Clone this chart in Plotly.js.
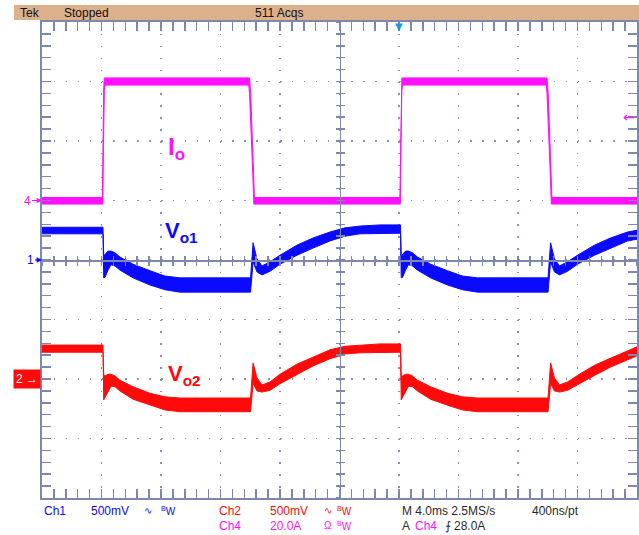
<!DOCTYPE html>
<html>
<head>
<meta charset="utf-8">
<script src="https://cdn.plot.ly/plotly-3.0.1.min.js"></script>
<style>html,body{margin:0;padding:0;background:#fff;}#chart{width:639px;height:535px;}</style>
</head>
<body>
<div id="chart"></div>
<script>
// ---- Data (time in ms, 4 ms/div) ----
// Ch4: output current Io (A), noise envelope upper / lower
var tIo  = [0, 4.06, 4.09, 4.11, 4.15, 4.19, 4.23, 13.90, 13.95, 14.03, 14.10, 14.17, 14.24, 14.28,
            24.06, 24.09, 24.11, 24.15, 24.19, 24.23, 33.90, 33.95, 34.03, 34.10, 34.17, 34.24, 34.28, 40.0];
var ioUp = [1.0, 1.0, 14, 28, 38, 41.2, 41.2, 41.2, 41.2, 36, 26, 14, 3, 1.0,
            1.0, 14, 28, 38, 41.2, 41.2, 41.2, 41.2, 36, 26, 14, 3, 1.0, 1.0];
var ioLo = [-1.2, -1.2, -1.2, 10, 28, 37, 38.8, 38.8, 36, 31, 20, 9, -1.2, -1.2,
            -1.2, -1.2, 10, 28, 37, 38.8, 38.8, 36, 31, 20, 9, -1.2, -1.2, -1.2];

// Ch1: Vo1 (mV, relative to Ch1 marker)
var tV = [0, 4.10, 4.15, 4.24, 4.44, 4.64, 4.91, 5.24, 6.12, 7.26, 8.27, 9.28,
          14.02, 14.19, 14.45, 14.79, 15.33, 16.00, 17.14, 18.22, 19.36, 20.37, 21.38, 22.72,
          24.10, 24.15, 24.24, 24.44, 24.64, 24.91, 25.24, 26.12, 27.26, 28.27, 29.28,
          34.02, 34.19, 34.45, 34.79, 35.33, 36.00, 37.14, 38.22, 39.36, 40.0];
var vo1Up = [275, 275, 35, 50, 75, 75, 60, 25, -35, -90, -135, -150,
             -150, 145, 10, -50, -15, 40, 125, 185, 235, 270, 285, 295,
             295, 35, 50, 75, 75, 60, 25, -35, -90, -135, -150,
             -150, 145, 10, -50, -15, 40, 125, 185, 235, 250];
var vo1Lo = [220, 220, -150, -145, -85, -40, -50, -85, -150, -210, -250, -270,
             -270, -15, -100, -125, -95, -35, 40, 100, 160, 200, 220, 225,
             225, -150, -145, -85, -40, -50, -85, -150, -210, -250, -270,
             -270, -15, -100, -125, -95, -35, 40, 100, 160, 175];

// Ch2: Vo2 (mV, relative to Ch2 marker)
var vo2Up = [285, 285, 35, 25, 40, 40, 25, -10, -65, -120, -150, -160,
             -160, 135, 10, -50, -25, 40, 125, 185, 245, 275, 285, 295,
             295, 35, 25, 40, 40, 25, -10, -65, -120, -150, -160,
             -160, 135, 10, -50, -25, 30, 115, 175, 235, 270];
var vo2Lo = [225, 225, -175, -160, -110, -60, -65, -100, -170, -220, -260, -275,
             -275, -35, -100, -110, -95, -40, 40, 110, 170, 210, 220, 225,
             225, -175, -160, -110, -60, -65, -100, -170, -220, -260, -275,
             -275, -35, -100, -110, -95, -45, 30, 100, 160, 195];

var triggerLevelA = 28;
var triggerTime = 24;

// ---- Build band polygons ----
function band(t, up, lo) {
  var tr = t.slice().reverse();
  return { x: t.concat(tr), y: up.concat(lo.slice().reverse()) };
}
var cMag = '#ff10ff', cBlue = '#0a0aff', cRed = '#ff0a0a';
var gridC = '#7f87ab';

var bIo = band(tIo, ioUp, ioLo);
var b1 = band(tV, vo1Up, vo1Lo);
var b2 = band(tV, vo2Up, vo2Lo);

var traces = [
  {x:[null], y:[null], xaxis:'x2', yaxis:'y', mode:'lines', hoverinfo:'skip'},
  {x:[null], y:[null], xaxis:'x3', yaxis:'y', mode:'lines', hoverinfo:'skip'},
  {x:[null], y:[null], xaxis:'x', yaxis:'y2', mode:'lines', hoverinfo:'skip'},
  {x:[null], y:[null], xaxis:'x', yaxis:'y3', mode:'lines', hoverinfo:'skip'},
  {x: bIo.x, y: bIo.y, xaxis:'x', yaxis:'y5', mode:'lines', fill:'toself', fillcolor:cMag,
   line:{color:cMag, width:1}, hoverinfo:'skip'},
  {x: b1.x, y: b1.y, xaxis:'x', yaxis:'y', mode:'lines', fill:'toself', fillcolor:cBlue,
   line:{color:cBlue, width:1}, hoverinfo:'skip'},
  {x: b2.x, y: b2.y, xaxis:'x', yaxis:'y4', mode:'lines', fill:'toself', fillcolor:cRed,
   line:{color:cRed, width:1}, hoverinfo:'skip'}
];

function centerAxis(base, ticks) {
  return Object.assign({
    anchor:'free', position:0.5, ticks:ticks, ticklen:4, tickwidth:1.5, tickcolor:gridC,
    showline:true, linecolor:gridC, linewidth:1.5, showgrid:false, zeroline:false,
    showticklabels:false, fixedrange:true
  }, base);
}

var F = 'Liberation Sans, Arial, sans-serif';
function txt(x, y, s, color, extra) {
  return Object.assign({xref:'paper', yref:'paper', x:x, y:y, xanchor:'left', yanchor:'middle',
    text:s, showarrow:false, font:{family:F, size:12, color:color}}, extra || {});
}
var dark = '#2a2a2a';
var r1 = -0.0273, r2 = -0.0588;

var annotations = [
  txt(-0.0403, 1.0199, 'Tek', '#111'),
  txt(0.0336, 1.0199, 'Stopped', '#111'),
  txt(0.3546, 1.0199, '511 Acqs', '#111'),
  // bottom status rows
  txt(0.0, r1, 'Ch1', cBlue), txt(0.079, r1, '500mV', cBlue), txt(0.168, r1, '∿', cBlue, {font:{family:F,size:10,color:cBlue}}),
  txt(0.1966, r1, '<sup>B</sup>W', cBlue, {font:{family:F,size:10,color:cBlue}}),
  txt(0.294, r1, 'Ch2', cRed), txt(0.3798, r1, '500mV', cRed), txt(0.4706, r1, '∿', cRed, {font:{family:F,size:10,color:cRed}}),
  txt(0.4924, r1, '<sup>B</sup>W', cRed, {font:{family:F,size:10,color:cRed}}),
  txt(0.6017, r1, 'M 4.0ms 2.5MS/s', dark), txt(0.8202, r1, '400ns/pt', dark),
  txt(0.294, r2, 'Ch4', cMag), txt(0.3798, r2, '20.0A', cMag), txt(0.4706, r2, 'Ω', cMag, {font:{family:F,size:10,color:cMag}}),
  txt(0.4924, r2, '<sup>B</sup>W', cMag, {font:{family:F,size:10,color:cMag}}),
  txt(0.6017, r2, 'A', dark), txt(0.6235, r2, 'Ch4', cMag), txt(0.674, r2, '⨍', dark), txt(0.689, r2, '28.0A', dark),
  // channel ground markers
  {xref:'paper', yref:'y5', x:0, y:0, text:'4', showarrow:true, ax:-15, ay:0, arrowhead:2, arrowsize:0.9,
   arrowwidth:1.2, arrowcolor:cMag, font:{family:F, size:12, color:cMag}},
  {xref:'paper', yref:'y', x:0, y:0, text:'1', showarrow:true, ax:-12, ay:0, arrowhead:2, arrowsize:0.9,
   arrowwidth:1.2, arrowcolor:cBlue, font:{family:F, size:12, color:cBlue}},
  {xref:'paper', yref:'y4', x:0, y:0, text:'2 →', showarrow:false, xanchor:'right', yanchor:'middle', xshift:-1,
   bgcolor:cRed, borderpad:2, font:{family:F, size:12, color:'#ffffff'}},
  // trigger level & position
  {xref:'paper', yref:'y5', x:1, y:triggerLevelA, text:'←', showarrow:false, xanchor:'right', yanchor:'middle',
   xshift:-1, borderpad:0, font:{family:'DejaVu Sans', size:14, color:cMag}},
  {xref:'x', yref:'paper', x:triggerTime, y:1, text:'▼', showarrow:false, yanchor:'top', yshift:3,
   font:{family:'DejaVu Sans', size:10, color:'#1a9ae0'}},
  // signal labels
  {xref:'x', yref:'paper', x:8.34, y:0.735, xanchor:'left', yanchor:'middle', showarrow:false,
   text:'<b>I<sub>o</sub></b>', font:{family:F, size:24, color:cMag}},
  {xref:'x', yref:'paper', x:8.13, y:0.559, xanchor:'left', yanchor:'middle', showarrow:false,
   text:'<b>V<sub>o1</sub></b>', font:{family:F, size:22, color:cBlue}},
  {xref:'x', yref:'paper', x:8.34, y:0.2584, xanchor:'left', yanchor:'middle', showarrow:false,
   text:'<b>V<sub>o2</sub></b>', font:{family:F, size:22, color:cRed}}
];

var layout = {
  width:639, height:535,
  margin:{l:42, r:2, t:22, b:37, pad:0},
  paper_bgcolor:'#ffffff', plot_bgcolor:'#ffffff',
  showlegend:false,
  xaxis:{range:[0,40], tick0:0, dtick:4, showgrid:true, gridcolor:'#8a90b0', gridwidth:1.2,
    griddash:'1.5px,10.4px', zeroline:false, showline:true, linecolor:gridC, linewidth:2,
    mirror:'allticks', ticks:'inside', ticklen:9, tickwidth:1.5, tickcolor:gridC, showticklabels:false,
    minor:{dtick:0.8, tick0:0, ticks:'inside', ticklen:5, tickwidth:1.5, tickcolor:gridC, showgrid:false},
    fixedrange:true},
  yaxis:{range:[-2000,2000], tick0:0, dtick:500, showgrid:true, gridcolor:'#8a90b0', gridwidth:1.2,
    griddash:'1.5px,10.4px', zeroline:false, showline:true, linecolor:gridC, linewidth:2,
    mirror:'allticks', ticks:'inside', ticklen:9, tickwidth:1.5, tickcolor:gridC, showticklabels:false,
    minor:{dtick:100, tick0:0, ticks:'inside', ticklen:5, tickwidth:1.5, tickcolor:gridC, showgrid:false},
    fixedrange:true},
  xaxis2: centerAxis({overlaying:'x', range:[0,40], tick0:0, dtick:0.8}, 'outside'),
  xaxis3: centerAxis({overlaying:'x', range:[0,40], tick0:0, dtick:0.8}, 'inside'),
  yaxis2: centerAxis({overlaying:'y', range:[-2000,2000], tick0:0, dtick:100}, 'outside'),
  yaxis3: centerAxis({overlaying:'y', range:[-2000,2000], tick0:0, dtick:100}, 'inside'),
  yaxis4:{overlaying:'y', range:[-1000,3000], visible:false, fixedrange:true},
  yaxis5:{overlaying:'y', range:[-100,60], visible:false, fixedrange:true},
  shapes:[
    {type:'rect', xref:'paper', yref:'paper', x0:-0.0471, x1:1.0034, y0:1.0042, y1:1.0357,
     fillcolor:'#ddb08c', line:{width:0}, layer:'below'}
  ],
  annotations: annotations
};

Plotly.newPlot('chart', traces, layout, {staticPlot:true, displayModeBar:false});
</script>
</body>
</html>
